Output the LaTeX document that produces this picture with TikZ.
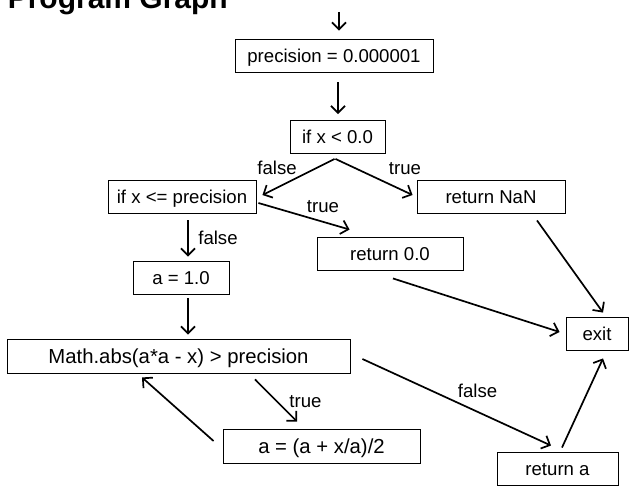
\documentclass[tikz,border=0pt]{standalone}
\usepackage{fontspec}
\setmainfont{Liberation Sans}
\usetikzlibrary{arrows.meta,calc}
\begin{document}
\begin{tikzpicture}[x=1pt,y=-1pt,
  box/.style={draw,line width=0.9pt,inner sep=0pt,minimum height=33pt,
    text height=13.6pt,text depth=0pt,font=\fontsize{18.6}{22}\selectfont},
  widebox/.style={box,text height=14.5pt,font=\fontsize{20.3}{24}\selectfont},
  arr/.style={line width=1.7pt,-{Straight Barb[length=7pt,width=14pt]}},
  lbl/.style={anchor=base,inner sep=0pt,font=\fontsize{18.6}{22}\selectfont}]
\useasboundingbox (0,0) rectangle (629,486);

\node[anchor=base east,inner sep=0pt,font=\bfseries\fontsize{30}{34}\selectfont] (title) at (228,9) {Program Graph};

\coordinate (start) at (339,12);
\node[box,minimum width=198pt] (prec) at (334,55.5) {precision = 0.000001};
\node[box,minimum width=95pt]  (ifx0) at (337.5,137) {if x < 0.0};
\node[box,minimum width=148pt] (ifxp) at (182,196.5) {if x <= precision};
\node[box,minimum width=148pt] (nan)  at (491,196.5) {return NaN};
\node[box,minimum width=146pt] (ret0) at (390,253.5) {return 0.0};
\node[box,minimum width=96pt]  (a1)   at (181,277.5) {a = 1.0};
\node[box,minimum width=62pt]  (exit) at (597,333.5) {exit};
\node[widebox,minimum width=343pt,minimum height=34pt] (math) at (178.5,356) {Math.abs(a*a - x) > precision};
\node[widebox,minimum width=197pt,minimum height=34pt] (upd)  at (321.5,446) {a = (a + x/a)/2};
\node[box,minimum width=121pt] (reta) at (557.5,468.5) {return a};

\draw[arr] (start) -- ($(prec.north)+(5,-8)$);
\draw[arr] ($(prec.south)+(4,10)$) -- ($(ifx0.north)+(0.5,-6)$);
\draw[arr] ($(ifx0.south)+(-3,5)$) -- ($(ifxp.east)+(6,-1.5)$);
\draw[arr] ($(ifx0.south)+(-2,5)$) -- ($(nan.west)+(-4,-1.5)$);
\draw[arr] ($(ifxp.east)+(2,6.5)$) -- ($(ret0.north west)+(33,-7)$);
\draw[arr] ($(ifxp.south)+(6,7)$) -- ($(a1.north)+(7,-4)$);
\draw[arr] ($(a1.south)+(7,4)$) -- ($(math.north)+(9.5,-4)$);
\draw[arr] ($(math.south)+(76.5,6)$) -- ($(upd.north)+(-24.5,-7)$);
\draw[arr] ($(upd.west)+(-9,-5)$) -- ($(math.south)+(-36.5,4)$);
\draw[arr] ($(math.east)+(12,3)$) -- ($(reta.north)+(-6.5,-6)$);
\draw[arr] ($(reta.north)+(4.5,-4)$) -- ($(exit.south)+(6,8)$);
\draw[arr] ($(nan.south)+(46,7)$) -- ($(exit.north)+(6,-4)$);
\draw[arr] ($(ret0.south)+(3,8)$) -- ($(exit.west)+(-6,-1.5)$);

\node[lbl] (l1) at (277,175) {false};
\node[lbl] (l2) at (405,175) {true};
\node[lbl] (l3) at (323,213) {true};
\node[lbl] (l4) at (218,245) {false};
\node[lbl] (l5) at (305.5,407) {true};
\node[lbl] (l6) at (477.5,397) {false};
\end{tikzpicture}
\end{document}
